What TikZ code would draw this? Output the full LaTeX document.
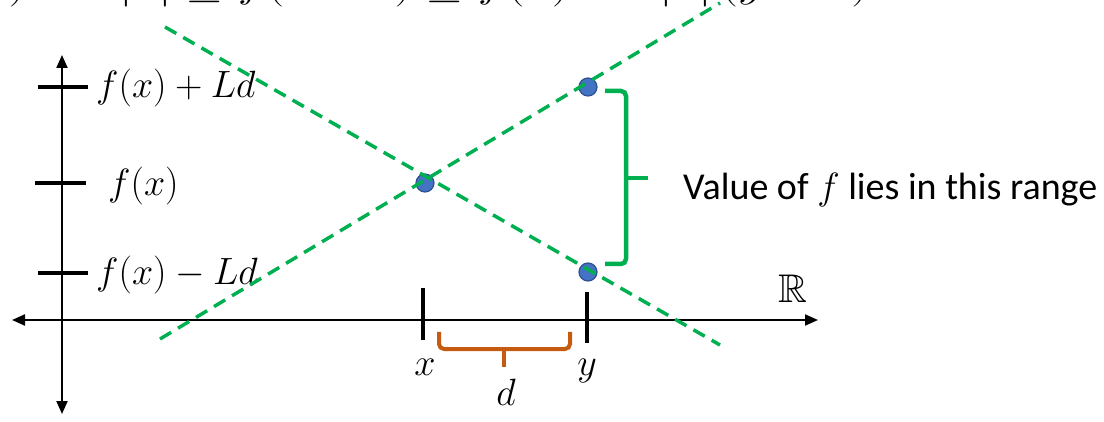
\RequirePackage{fix-cm}
\documentclass[tikz,border=0pt]{standalone}
\usepackage{amssymb}
\usepackage{fontspec}
\newfontfamily\calib{Carlito}
\usetikzlibrary{arrows.meta}
\definecolor{lgreen}{HTML}{00B050}
\definecolor{ptblue}{HTML}{4472C4}
\definecolor{ptedge}{HTML}{2F528F}
\definecolor{brorange}{HTML}{C55A11}
\tikzset{axtip/.tip={Triangle[length=13pt,width=11pt]}}
\begin{document}
\begin{tikzpicture}[x=1pt,y=-1pt,
  axisline/.style={line width=2pt,axtip-axtip},
  tickmark/.style={line width=3.5pt},
  guide/.style={draw=lgreen,line width=3.5pt,dash pattern=on 13pt off 8pt},
  dot/.style={circle,fill=ptblue,draw=ptedge,line width=1.2pt,minimum size=18pt,inner sep=0pt},
  mlabel/.style={inner sep=0pt,font=\fontsize{38}{46}\selectfont},
  greenbrace/.style={draw=lgreen,line width=4.5pt,rounded corners=5pt},
  orangebrace/.style={draw=brorange,line width=4pt,rounded corners=5pt},
  ]
\useasboundingbox (0,0) rectangle (1104,422);

% cut-off formula at the top
\node[anchor=base west,inner sep=0pt,font=\fontsize{38}{46}\selectfont] (topeq) at (-17,-2)
  {\scalebox{1.3}[1]{$y) - L|d| \le f(x + d) \le f(x) + L|d|\,(y - x)$}};

% axes
\coordinate (vb) at (62,414);
\coordinate (vt) at (62,55);
\coordinate (hl) at (12,320);
\coordinate (hr) at (818,320);
\draw[axisline] (vb) -- (vt);
\draw[axisline] (hl) -- (hr);

% vertical ticks and labels
\coordinate (t1a) at (38,87);  \coordinate (t1b) at (88,87);
\coordinate (t2a) at (35,183); \coordinate (t2b) at (86,183);
\coordinate (t3a) at (38,273); \coordinate (t3b) at (88,273);
\draw[tickmark] (t1a) -- (t1b);
\draw[tickmark] (t2a) -- (t2b);
\draw[tickmark] (t3a) -- (t3b);
\node[mlabel,anchor=base west] (lab1) at (96,98) {$f(x)+Ld$};
\node[mlabel,anchor=base west] (lab2) at (108,196) {$f(x)$};
\node[mlabel,anchor=base west] (lab3) at (96,285) {$f(x)-Ld$};

% horizontal ticks and labels
\coordinate (xa) at (423,288); \coordinate (xb) at (423,340);
\coordinate (ya) at (587,292); \coordinate (yb) at (587,343);
\draw[tickmark] (xa) -- (xb);
\draw[tickmark] (ya) -- (yb);
\node[mlabel,anchor=base] (labx) at (425,375) {$x$};
\node[mlabel,anchor=base] (laby) at (587,375) {$y$};
\node[mlabel,anchor=base] (labd) at (506,405) {$d$};
\node[inner sep=0pt,anchor=base,font=\fontsize{40}{48}\selectfont] (labR) at (793,302) {$\mathbb{R}$};

% orange brace
\coordinate (ob1) at (439,332); \coordinate (ob2) at (439,349);
\coordinate (ob3) at (570,349); \coordinate (ob4) at (570,332);
\coordinate (obm) at (504,349); \coordinate (obt) at (504,367);
\draw[orangebrace] (ob1) -- (ob2) -- (ob3) -- (ob4);
\draw[orangebrace] (obm) -- (obt);

% green brace
\coordinate (gb1) at (605,91); \coordinate (gb2) at (626,91);
\coordinate (gb3) at (626,264); \coordinate (gb4) at (605,264);
\coordinate (gbm) at (626,178); \coordinate (gbt) at (648,178);
\draw[greenbrace] (gb1) -- (gb2) -- (gb3) -- (gb4);
\draw[greenbrace] (gbm) -- (gbt);

% dots
\node[dot] (p0) at (425,183) {};
\node[dot] (p1) at (588,87) {};
\node[dot] (p2) at (588,272) {};

% green dashed lines (drawn over the dots)
\coordinate (l1s) at (160,339); \coordinate (l1e) at (720,3);
\coordinate (l2s) at (165,27);  \coordinate (l2e) at (720,345);
\draw[guide] (l1s) -- (l1e);
\draw[guide] (l2s) -- (l2e);

% range text
\node[anchor=base west,inner sep=0pt,font=\calib\fontsize{38}{46}\selectfont] (rangetext) at (683,200)
  {Value of $f$ lies in this range};
\end{tikzpicture}
\end{document}
